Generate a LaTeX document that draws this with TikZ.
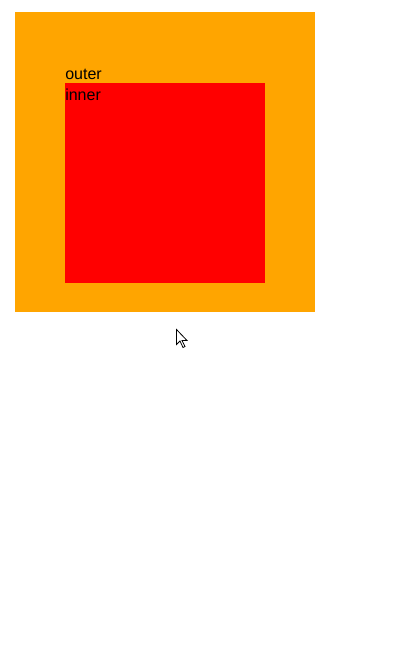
\documentclass[tikz,border=0pt]{standalone}
\usepackage{fontspec}
\setmainfont{Liberation Sans}
\usetikzlibrary{positioning}
\definecolor{boxOrange}{HTML}{FFA500}
\definecolor{boxRed}{HTML}{FF0000}
\tikzset{
	square/.style={inner sep=0pt,outer sep=0pt,anchor=north west},
	label text/.style={font=\fontsize{12}{14}\selectfont,inner sep=0pt,anchor=base west}
}
\begin{document}
\begin{tikzpicture}[x=0.75pt,y=-0.75pt]
	\useasboundingbox(0,0)rectangle(404,665);
	% outer and inner boxes
	\node[square,fill=boxOrange,minimum width=225pt,minimum height=225pt](outer)at(15,12){};
	\node[square,fill=boxRed,minimum width=150pt,minimum height=150pt](inner)at(65,83){};
	\node[label text](outerlbl)at(65,79){outer};
	\node[label text](innerlbl)at(65,100){inner};
	% mouse pointer
	\filldraw[fill=white,draw=black,line width=0.6pt,line join=miter]
		(176.5,329.5)--++(0,15)--++(3.5,-3.5)--++(3,6.5)--++(2,-1)--++(-3,-6)--++(5,0)--cycle;
\end{tikzpicture}
\end{document}
